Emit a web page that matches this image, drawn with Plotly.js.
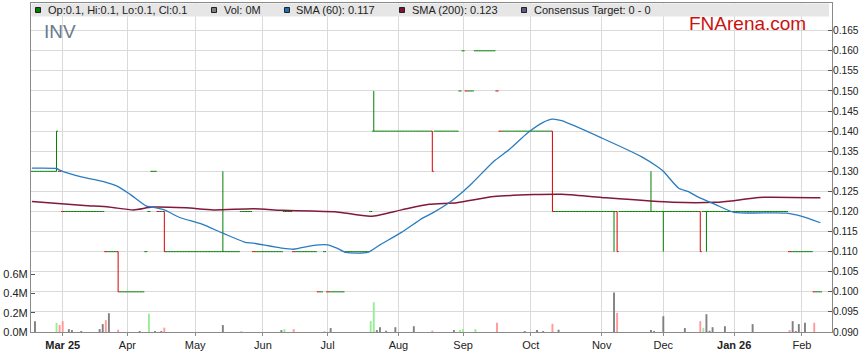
<!DOCTYPE html>
<html><head><meta charset="utf-8">
<script src="https://cdn.plot.ly/plotly-3.0.1.min.js"></script>
<style>html,body{margin:0;padding:0;background:#fff;}#chart{width:859px;height:363px;}</style>
</head><body><div id="chart"></div>
<script>
// ---- data (one value per trading day, starting Mon 17 Feb 2025) ----
const startDate = '2025-02-17';
const openP = [
0.13,0.13,0.13,0.13,0.13,0.13,0.13,0.13,0.13,0.13,
0.12,0.12,0.12,0.12,0.12,0.12,0.12,0.12,0.12,0.12,
0.12,0.12,0.12,0.12,0.11,0.11,0.11,0.11,0.11,0.10,
0.10,0.10,0.10,0.10,0.10,0.10,0.10,0.11,0.12,0.13,
0.13,0.12,0.12,0.12,0.11,0.11,0.11,0.11,0.11,0.11,
0.11,0.11,0.11,0.11,0.11,0.11,0.11,0.11,0.11,0.11,
0.11,0.11,0.11,0.11,0.11,0.11,0.11,0.11,0.12,0.12,
0.12,0.12,0.11,0.11,0.11,0.11,0.11,0.11,0.11,0.11,
0.11,0.11,0.12,0.12,0.12,0.11,0.11,0.11,0.11,0.11,
0.11,0.11,0.11,0.10,0.10,0.11,0.10,0.10,0.10,0.10,
0.10,0.10,0.11,0.11,0.11,0.11,0.11,0.11,0.11,0.11,
0.12,0.14,0.14,0.14,0.14,0.14,0.14,0.14,0.14,0.14,
0.14,0.14,0.14,0.14,0.14,0.14,0.14,0.14,0.14,0.14,
0.14,0.14,0.14,0.14,0.14,0.14,0.14,0.14,0.14,0.15,
0.16,0.15,0.15,0.15,0.16,0.16,0.16,0.16,0.16,0.16,
0.16,0.15,0.14,0.14,0.14,0.14,0.14,0.14,0.14,0.14,
0.14,0.14,0.14,0.14,0.14,0.14,0.14,0.14,0.14,0.14,
0.12,0.12,0.12,0.12,0.12,0.12,0.12,0.12,0.12,0.12,
0.12,0.12,0.12,0.12,0.12,0.12,0.12,0.12,0.12,0.12,
0.12,0.12,0.12,0.12,0.12,0.12,0.12,0.12,0.12,0.12,
0.12,0.12,0.12,0.12,0.12,0.12,0.12,0.12,0.12,0.12,
0.12,0.12,0.12,0.12,0.12,0.12,0.12,0.12,0.12,0.12,
0.12,0.12,0.12,0.12,0.12,0.12,0.12,0.12,0.12,0.12,
0.12,0.12,0.12,0.12,0.12,0.12,0.12,0.12,0.12,0.12,
0.12,0.12,0.12,0.12,0.12,0.12,0.11,0.11,0.11,0.11,
0.11,0.11,0.11,0.11,0.10,0.10,0.10];
const highP = [
0.13,0.13,0.13,0.13,0.13,0.13,0.13,0.13,0.14,0.13,
0.12,0.12,0.12,0.12,0.12,0.12,0.12,0.12,0.12,0.12,
0.12,0.12,0.12,0.12,0.11,0.11,0.11,0.11,0.11,0.10,
0.10,0.10,0.10,0.10,0.10,0.10,0.10,0.11,0.12,0.13,
0.13,0.12,0.12,0.12,0.11,0.11,0.11,0.11,0.11,0.11,
0.11,0.11,0.11,0.11,0.11,0.11,0.11,0.11,0.11,0.11,
0.11,0.11,0.13,0.11,0.11,0.11,0.11,0.11,0.12,0.12,
0.12,0.12,0.11,0.11,0.11,0.11,0.11,0.11,0.11,0.11,
0.11,0.11,0.12,0.12,0.12,0.11,0.11,0.11,0.11,0.11,
0.11,0.11,0.11,0.10,0.10,0.11,0.10,0.10,0.10,0.10,
0.10,0.10,0.11,0.11,0.11,0.11,0.11,0.11,0.11,0.11,
0.12,0.15,0.14,0.14,0.14,0.14,0.14,0.14,0.14,0.14,
0.14,0.14,0.14,0.14,0.14,0.14,0.14,0.14,0.14,0.14,
0.14,0.14,0.14,0.14,0.14,0.14,0.14,0.14,0.14,0.15,
0.16,0.15,0.15,0.15,0.16,0.16,0.16,0.16,0.16,0.16,
0.16,0.15,0.14,0.14,0.14,0.14,0.14,0.14,0.14,0.14,
0.14,0.14,0.14,0.14,0.14,0.14,0.14,0.14,0.14,0.14,
0.12,0.12,0.12,0.12,0.12,0.12,0.12,0.12,0.12,0.12,
0.12,0.12,0.12,0.12,0.12,0.12,0.12,0.12,0.12,0.12,
0.12,0.12,0.12,0.12,0.12,0.12,0.12,0.12,0.12,0.12,
0.12,0.13,0.12,0.12,0.12,0.12,0.12,0.12,0.12,0.12,
0.12,0.12,0.12,0.12,0.12,0.12,0.12,0.12,0.12,0.12,
0.12,0.12,0.12,0.12,0.12,0.12,0.12,0.12,0.12,0.12,
0.12,0.12,0.12,0.12,0.12,0.12,0.12,0.12,0.12,0.12,
0.12,0.12,0.12,0.12,0.12,0.12,0.11,0.11,0.11,0.11,
0.11,0.11,0.11,0.11,0.10,0.10,0.10];
const lowP = [
0.13,0.13,0.13,0.13,0.13,0.13,0.13,0.13,0.13,0.13,
0.12,0.12,0.12,0.12,0.12,0.12,0.12,0.12,0.12,0.12,
0.12,0.12,0.12,0.12,0.11,0.11,0.11,0.11,0.10,0.10,
0.10,0.10,0.10,0.10,0.10,0.10,0.10,0.11,0.12,0.13,
0.13,0.12,0.12,0.11,0.11,0.11,0.11,0.11,0.11,0.11,
0.11,0.11,0.11,0.11,0.11,0.11,0.11,0.11,0.11,0.11,
0.11,0.11,0.11,0.11,0.11,0.11,0.11,0.11,0.12,0.12,
0.12,0.12,0.11,0.11,0.11,0.11,0.11,0.11,0.11,0.11,
0.11,0.11,0.12,0.12,0.12,0.11,0.11,0.11,0.11,0.11,
0.11,0.11,0.11,0.10,0.10,0.11,0.10,0.10,0.10,0.10,
0.10,0.10,0.11,0.11,0.11,0.11,0.11,0.11,0.11,0.11,
0.12,0.14,0.14,0.14,0.14,0.14,0.14,0.14,0.14,0.14,
0.14,0.14,0.14,0.14,0.14,0.14,0.14,0.14,0.14,0.14,
0.13,0.14,0.14,0.14,0.14,0.14,0.14,0.14,0.14,0.15,
0.16,0.15,0.15,0.15,0.16,0.16,0.16,0.16,0.16,0.16,
0.16,0.15,0.14,0.14,0.14,0.14,0.14,0.14,0.14,0.14,
0.14,0.14,0.14,0.14,0.14,0.14,0.14,0.14,0.14,0.12,
0.12,0.12,0.12,0.12,0.12,0.12,0.12,0.12,0.12,0.12,
0.12,0.12,0.12,0.12,0.12,0.12,0.12,0.12,0.12,0.11,
0.11,0.12,0.12,0.12,0.12,0.12,0.12,0.12,0.12,0.12,
0.12,0.12,0.12,0.12,0.12,0.11,0.12,0.12,0.12,0.12,
0.12,0.12,0.12,0.12,0.12,0.12,0.12,0.11,0.12,0.11,
0.12,0.12,0.12,0.12,0.12,0.12,0.12,0.12,0.12,0.12,
0.12,0.12,0.12,0.12,0.12,0.12,0.12,0.12,0.12,0.12,
0.12,0.12,0.12,0.12,0.12,0.12,0.11,0.11,0.11,0.11,
0.11,0.11,0.11,0.11,0.10,0.10,0.10];
const closeP = [
0.13,0.13,0.13,0.13,0.13,0.13,0.13,0.13,0.14,0.13,
0.12,0.12,0.12,0.12,0.12,0.12,0.12,0.12,0.12,0.12,
0.12,0.12,0.12,0.12,0.11,0.11,0.11,0.11,0.10,0.10,
0.10,0.10,0.10,0.10,0.10,0.10,0.10,0.11,0.12,0.13,
0.13,0.12,0.12,0.11,0.11,0.11,0.11,0.11,0.11,0.11,
0.11,0.11,0.11,0.11,0.11,0.11,0.11,0.11,0.11,0.11,
0.11,0.11,0.11,0.11,0.11,0.11,0.11,0.11,0.12,0.12,
0.12,0.12,0.11,0.11,0.11,0.11,0.11,0.11,0.11,0.11,
0.11,0.11,0.12,0.12,0.12,0.11,0.11,0.11,0.11,0.11,
0.11,0.11,0.11,0.10,0.10,0.11,0.10,0.10,0.10,0.10,
0.10,0.10,0.11,0.11,0.11,0.11,0.11,0.11,0.11,0.11,
0.12,0.14,0.14,0.14,0.14,0.14,0.14,0.14,0.14,0.14,
0.14,0.14,0.14,0.14,0.14,0.14,0.14,0.14,0.14,0.14,
0.13,0.14,0.14,0.14,0.14,0.14,0.14,0.14,0.14,0.15,
0.16,0.15,0.15,0.15,0.16,0.16,0.16,0.16,0.16,0.16,
0.16,0.15,0.14,0.14,0.14,0.14,0.14,0.14,0.14,0.14,
0.14,0.14,0.14,0.14,0.14,0.14,0.14,0.14,0.14,0.12,
0.12,0.12,0.12,0.12,0.12,0.12,0.12,0.12,0.12,0.12,
0.12,0.12,0.12,0.12,0.12,0.12,0.12,0.12,0.12,0.12,
0.11,0.12,0.12,0.12,0.12,0.12,0.12,0.12,0.12,0.12,
0.12,0.12,0.12,0.12,0.12,0.12,0.12,0.12,0.12,0.12,
0.12,0.12,0.12,0.12,0.12,0.12,0.12,0.11,0.12,0.12,
0.12,0.12,0.12,0.12,0.12,0.12,0.12,0.12,0.12,0.12,
0.12,0.12,0.12,0.12,0.12,0.12,0.12,0.12,0.12,0.12,
0.12,0.12,0.12,0.12,0.12,0.12,0.11,0.11,0.11,0.11,
0.11,0.11,0.11,0.11,0.10,0.10,0.10];

// volume (millions of shares) on the days that traded
const volDay = [1,8,9,10,12,13,16,22,23,24,25,28,35,38,40,42,43,62,68,81,82,85,95,97,110,111,112,113,115,118,124,130,137,139,140,144,151,160,164,166,169,171,189,190,201,202,205,212,217,218,219,220,221,225,234,246,247,248,249,251,254];
const volM = [0.113,0.096,0.072,0.113,0.03,0.02,0.01,0.03,0.082,0.123,0.195,0.024,0.01,0.19,0.01,0.01,0.045,0.072,0.01,0.02,0.03,0.03,0.01,0.041,0.113,0.31,0.02,0.05,0.013,0.05,0.06,0.014,0.02,0.02,0.03,0.03,0.096,0.01,0.02,0.01,0.085,0.024,0.41,0.198,0.02,0.01,0.164,0.041,0.113,0.041,0.185,0.013,0.05,0.06,0.082,0.02,0.113,0.01,0.082,0.096,0.096];

// moving averages read at sample days
const sma60Day = [0,8,9,16,23,28,32,37,39,43,48,55,62,69,72,81,85,91,96,99,102,109,113,120,127,130,136,140,143,150,155,161,166,169,172,185,198,203,205,210,213,216,222,228,245,250,256];
const sma60 = [0.1308,0.1307,0.1303,0.1286,0.1275,0.1262,0.1242,0.1214,0.1211,0.1204,0.1185,0.1169,0.1146,0.1124,0.1121,0.1109,0.1106,0.1115,0.1117,0.1109,0.1098,0.1098,0.1117,0.1148,0.1184,0.1196,0.1225,0.1250,0.1271,0.1325,0.1354,0.1396,0.1422,0.1430,0.1426,0.1383,0.1336,0.1312,0.1300,0.1258,0.1250,0.1237,0.1217,0.1198,0.1196,0.1188,0.1172];
const sma200Day = [0,17,25,33,39,50,59,72,81,91,99,110,120,129,138,150,163,172,185,208,222,228,236,256];
const sma200 = [0.1225,0.1215,0.1211,0.1204,0.1211,0.1209,0.1204,0.1207,0.1203,0.1201,0.1199,0.1188,0.1204,0.1218,0.1222,0.1237,0.1242,0.1243,0.1235,0.1223,0.1223,0.1227,0.1235,0.1234];

const monthLabels = ['<b>Mar 25</b>','Apr','May','Jun','Jul','Aug','Sep','Oct','Nov','Dec','<b>Jan 26</b>','Feb'];
const priceTickVals = [0.090,0.095,0.100,0.105,0.110,0.115,0.120,0.125,0.130,0.135,0.140,0.145,0.150,0.155,0.160,0.165];
const volTickVals = [0,0.2,0.4,0.6];
const volTickText = ['0.0M','0.2M','0.4M','0.6M'];
const legendTexts = ['Op:0.1, Hi:0.1, Lo:0.1, Cl:0.1','Vol: 0M','SMA (60): 0.117','SMA (200): 0.123','Consensus Target: 0 - 0'];

// ---- trading calendar (weekdays) ----
const N = closeP.length;
const dates = [];
{
  let d = new Date(startDate + 'T00:00:00Z');
  while (dates.length < N) {
    const wd = d.getUTCDay();
    if (wd !== 0 && wd !== 6) dates.push(new Date(d.getTime()));
    d = new Date(d.getTime() + 86400000);
  }
}
const tickIdx = [];
for (let i = 1; i < N; i++) if (dates[i].getUTCMonth() !== dates[i-1].getUTCMonth()) tickIdx.push(i);
const idx = closeP.map((_, i) => i);

// direction per day
const up = closeP.map((c, i) => i === 0 ? true : (c > closeP[i-1] ? true : (c < closeP[i-1] ? false : c >= openP[i])));
function pick(arr, want) { return idx.filter(i => up[i] === want).map(i => arr[i]); }
function ohlcTrace(want, color) {
  return {
    type: 'ohlc', xaxis: 'x', yaxis: 'y2',
    x: pick(idx, want), open: pick(openP, want), high: pick(highP, want), low: pick(lowP, want), close: pick(closeP, want),
    increasing: {line: {color: color, width: 1}}, decreasing: {line: {color: color, width: 1}},
    tickwidth: 0.5, hoverinfo: 'skip'
  };
}
const volColors = volDay.map(d => {
  const c = closeP[d], p = d > 0 ? closeP[d-1] : c;
  return c > p ? '#98ee98' : (c < p ? '#ff9b9b' : '#808080');
});

const traces = [
  {type: 'bar', x: volDay, y: volM, xaxis: 'x', yaxis: 'y', marker: {color: volColors, line: {width: 0}}, width: 0.62, hoverinfo: 'skip'},
  ohlcTrace(true, '#008000'),
  ohlcTrace(false, '#d40000'),
  {type: 'scatter', mode: 'lines', x: sma200Day, y: sma200, xaxis: 'x', yaxis: 'y2', line: {color: '#82183c', width: 1.5, shape: 'spline', smoothing: 0.6}, hoverinfo: 'skip'},
  {type: 'scatter', mode: 'lines', x: sma60Day, y: sma60, xaxis: 'x', yaxis: 'y2', line: {color: '#2a7cbf', width: 1.3, shape: 'spline', smoothing: 0.6}, hoverinfo: 'skip'}
];

// ---- layout helpers (pixel -> paper) ----
const L = 31, R = 27, T = 3, B = 31, W = 859 - L - R, H = 363 - T - B;
const px = x => (x - L) / W;
const py = y => (363 - B - y) / H;

const shapes = [
  {type: 'rect', xref: 'paper', yref: 'paper', x0: px(31.5), x1: px(829), y0: py(16.5), y1: py(3.5), fillcolor: '#e6e6e6', line: {width: 0}, layer: 'above'}
];
const sqColors = ['#008000', '#808080', '#1f6fb2', '#7d1232', '#5a5c86'];
const sqX = [35.5, 211.5, 284.5, 399.5, 521.5];
const txX = [45.5, 221.5, 294, 409.5, 532];
const annotations = [];
for (let k = 0; k < 5; k++) {
  shapes.push({type: 'rect', xref: 'paper', yref: 'paper', x0: px(sqX[k]), x1: px(sqX[k] + 5), y0: py(12.5), y1: py(7.5), fillcolor: sqColors[k], line: {color: '#222', width: 1}, layer: 'above'});
  annotations.push({xref: 'paper', yref: 'paper', x: px(txX[k]), y: py(10), xanchor: 'left', yanchor: 'middle', text: legendTexts[k], showarrow: false, font: {size: 11, color: '#222'}});
}
annotations.push({xref: 'paper', yref: 'paper', x: px(41.5), y: py(32), xanchor: 'left', yanchor: 'middle', text: 'INV', showarrow: false, font: {size: 19, color: '#6a7a8c'}});
annotations.push({xref: 'paper', yref: 'paper', x: px(687), y: py(24), xanchor: 'left', yanchor: 'middle', text: 'FNArena.com', showarrow: false, font: {size: 19, color: '#cc1111'}});

const layout = {
  width: 859, height: 363,
  margin: {l: L, r: R, t: T, b: B, pad: 0},
  paper_bgcolor: '#ffffff', plot_bgcolor: '#ffffff',
  showlegend: false,
  font: {family: 'Liberation Sans, Arial, sans-serif', size: 11, color: '#222'},
  xaxis: {
    range: [-0.29, 259.77], tickmode: 'array', tickvals: tickIdx, ticktext: monthLabels,
    showgrid: true, gridcolor: '#dadada', gridwidth: 1, zeroline: false,
    showline: true, linecolor: '#8a8a8a', linewidth: 1, mirror: true,
    ticks: 'outside', ticklen: 3, tickcolor: '#8a8a8a',
    tickfont: {size: 11, color: '#222'}, rangeslider: {visible: false}, fixedrange: true
  },
  yaxis: {
    range: [0, 3.42], side: 'left', tickmode: 'array', tickvals: volTickVals, ticktext: volTickText,
    showgrid: false, zeroline: false, showline: true, linecolor: '#8a8a8a', linewidth: 1,
    ticks: 'inside', ticklen: 4, tickcolor: '#555', tickfont: {size: 11, color: '#222'}, fixedrange: true
  },
  yaxis2: {
    range: [0.090, 0.1719], overlaying: 'y', side: 'right', tickmode: 'array', tickvals: priceTickVals, tickformat: '.3f',
    showgrid: true, gridcolor: '#dadada', gridwidth: 1, zeroline: false,
    showline: true, linecolor: '#8a8a8a', linewidth: 1,
    ticks: 'inside', ticklen: 4, tickcolor: '#555', tickfont: {size: 10.2, color: '#222'},
    ticklabelstandoff: -2, fixedrange: true
  },
  shapes: shapes,
  annotations: annotations
};

Plotly.newPlot('chart', traces, layout, {staticPlot: true, displayModeBar: false});
</script>
</body></html>
